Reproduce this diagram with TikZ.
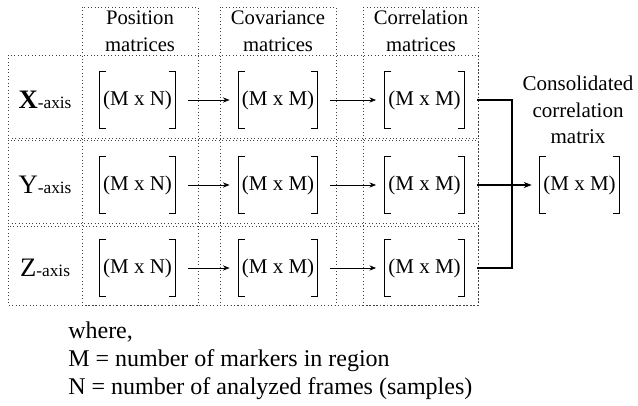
\documentclass[tikz,border=0pt]{standalone}
\usepackage{fontspec}
\setmainfont{Liberation Serif}
\usetikzlibrary{arrows.meta}

\begin{document}
\begin{tikzpicture}[x=0.75pt, y=-0.75pt,
  panel/.style={draw=black!75, dotted, line width=0.6pt},
  matnode/.style={inner xsep=2.5pt, inner ysep=0pt, minimum height=42pt,
    font=\fontsize{15.75}{18}\selectfont},
  bracket/.style={line width=0.8pt},
  flow/.style={line width=0.6pt, -{Stealth[length=5pt, width=4pt]},
    shorten <=9pt, shorten >=6.5pt},
  feed/.style={line width=0.9pt}]
\useasboundingbox (0,0) rectangle (638,406);

% Dotted column and row panels
\draw[panel] (82,7) rectangle (198,305);
\draw[panel] (220,7) rectangle (336,305);
\draw[panel] (363,7) rectangle (478,305);
\draw[panel] (8,55) rectangle (478,138);
\draw[panel] (8,140) rectangle (478,223);
\draw[panel] (8,226) rectangle (478,305);

% Column headers
\node[align=center, font=\fontsize{15.5}{20}\selectfont] (hpos) at (140,31) {Position\\matrices};
\node[align=center, font=\fontsize{15.5}{20}\selectfont] (hcov) at (278,31) {Covariance\\matrices};
\node[align=center, font=\fontsize{15.5}{20}\selectfont] (hcor) at (421,31) {Correlation\\matrices};

% Row labels
\node (lx) at (45,100) {{\fontsize{20}{20}\selectfont\bfseries X}{\fontsize{13}{13}\selectfont -axis}};
\node (ly) at (45,185) {{\fontsize{20}{20}\selectfont Y}{\fontsize{13}{13}\selectfont -axis}};
\node (lz) at (45,268) {{\fontsize{20}{20}\selectfont Z}{\fontsize{13}{13}\selectfont -axis}};

% Matrices
\node[matnode] (posX) at (137.5,100) {(M x N)};
\node[matnode] (covX) at (278,100) {(M x M)};
\node[matnode] (corX) at (424.5,100) {(M x M)};
\node[matnode] (posY) at (137.5,185) {(M x N)};
\node[matnode] (covY) at (278,185) {(M x M)};
\node[matnode] (corY) at (424.5,185) {(M x M)};
\node[matnode] (posZ) at (137.5,268) {(M x N)};
\node[matnode] (covZ) at (278,268) {(M x M)};
\node[matnode] (corZ) at (424.5,268) {(M x M)};
\node[matnode] (cons) at (579.5,185) {(M x M)};

\node[align=center, font=\fontsize{15.75}{20}\selectfont] (hcons) at (578,110) {Consolidated\\correlation\\matrix};

% Square brackets round every matrix
\foreach \m in {posX,covX,corX,posY,covY,corY,posZ,covZ,corZ,cons} {
  \draw[bracket] ([xshift=5pt]\m.north west) -- (\m.north west) -- (\m.south west) -- ([xshift=5pt]\m.south west);
  \draw[bracket] ([xshift=-5pt]\m.north east) -- (\m.north east) -- (\m.south east) -- ([xshift=-5pt]\m.south east);
}

% Arrows along each row
\foreach \r in {X,Y,Z} {
  \draw[flow] (pos\r.east) -- (cov\r.west);
  \draw[flow] (cov\r.east) -- (cor\r.west);
}

% Merge into the consolidated matrix
\coordinate (join) at (512,185);
\draw[feed] ([xshift=9.5pt]corX.east) -| (join) |- ([xshift=9.5pt]corZ.east);
\draw[feed, -{Stealth[length=6pt, width=4.5pt]}, shorten >=6pt] ([xshift=9.5pt]corY.east) -- (cons.west);

% Legend
\node[anchor=north west, align=left, inner sep=0pt, font=\fontsize{18}{21}\selectfont] (legend) at (68,322)
  {where,\\M = number of markers in region\\N = number of analyzed frames (samples)};
\end{tikzpicture}
\end{document}
